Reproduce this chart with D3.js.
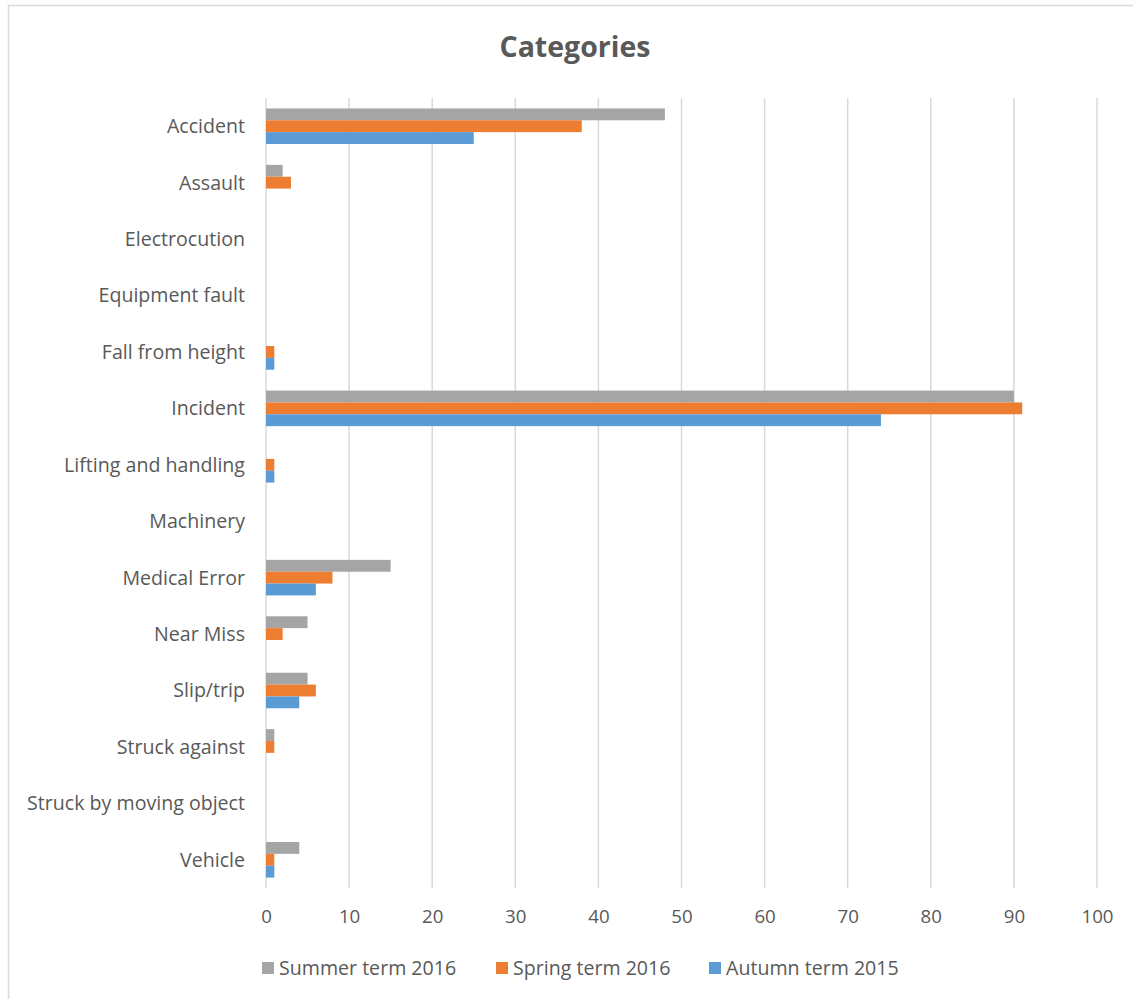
<!DOCTYPE html>
<html><head><meta charset="utf-8">
<script src="https://cdn.jsdelivr.net/npm/d3@7"></script>
<style>body{margin:0;background:#fff;} text{font-family:"Open Sans",sans-serif;fill:#595959;}</style>
</head><body>
<svg id="c" width="1133" height="999"></svg>
<script>
const categories = ["Accident","Assault","Electrocution","Equipment fault","Fall from height","Incident","Lifting and handling","Machinery","Medical Error","Near Miss","Slip/trip","Struck against","Struck by moving object","Vehicle"];
const seriesNames = ["Summer term 2016","Spring term 2016","Autumn term 2015"];
const summer2016 = [48,2,0,0,0,90,0,0,15,5,5,1,0,4];
const spring2016 = [38,3,0,0,1,91,1,0,8,2,6,1,0,1];
const autumn2015 = [25,0,0,0,1,74,1,0,6,0,4,0,0,1];
const xTicks = [0,10,20,30,40,50,60,70,80,90,100];
const colors = ["#A5A5A5","#ED7D31","#5B9BD5"];
const series = [summer2016, spring2016, autumn2015];

const svg = d3.select("#c");
svg.append("rect").attr("x",8.5).attr("y",5.5).attr("width",1140).attr("height",1010).attr("fill","#fff").attr("stroke","#D9D9D9").attr("stroke-width",1.5);

const x = d3.scaleLinear().domain([0,100]).range([266,1097]);
const y = d3.scaleBand().domain(categories).range([98,888]).paddingInner(0.37).paddingOuter(0.185);
const yInner = d3.scaleBand().domain([0,1,2]).range([0,y.bandwidth()]);

svg.append("g").selectAll("line").data(xTicks).join("line")
  .attr("x1",d=>x(d)).attr("x2",d=>x(d)).attr("y1",98).attr("y2",888)
  .attr("stroke","#D9D9D9").attr("stroke-width",1.5);

const g = svg.append("g");
series.forEach((s,i)=>{
  g.append("g").selectAll("rect").data(categories.map((c,j)=>({c,v:s[j]})).filter(d=>d.v>0)).join("rect")
    .attr("x",x(0)).attr("y",d=>y(d.c)+yInner(i))
    .attr("width",d=>x(d.v)-x(0)).attr("height",yInner.bandwidth())
    .attr("fill",colors[i]);
});

const xAxis = d3.axisBottom(x).tickValues(xTicks).tickSize(0).tickPadding(0);
const xg = svg.append("g").attr("transform","translate(0,923)").call(xAxis);
xg.select(".domain").remove();
xg.selectAll("text").attr("font-size",18.7).attr("fill","#595959").attr("dy","0").style("font-family","'Open Sans',sans-serif");

const yAxis = d3.axisLeft(y).tickSize(0).tickPadding(0);
const yg = svg.append("g").attr("transform","translate(245,0)").call(yAxis);
yg.select(".domain").remove();
yg.selectAll("text").attr("font-size",19.6).attr("fill","#595959").attr("dy","0.35em").style("font-family","'Open Sans',sans-serif");

svg.append("text").attr("x",575).attr("y",57).attr("text-anchor","middle")
  .attr("font-size",28.5).attr("font-weight","bold").text("Categories");

const legX = [262,496,709];
seriesNames.forEach((n,i)=>{
  svg.append("rect").attr("x",legX[i]).attr("y",962).attr("width",12).attr("height",12).attr("fill",colors[i]);
  svg.append("text").attr("x",legX[i]+17).attr("y",975).attr("font-size",19.6).text(n);
});
</script>
</body></html>
